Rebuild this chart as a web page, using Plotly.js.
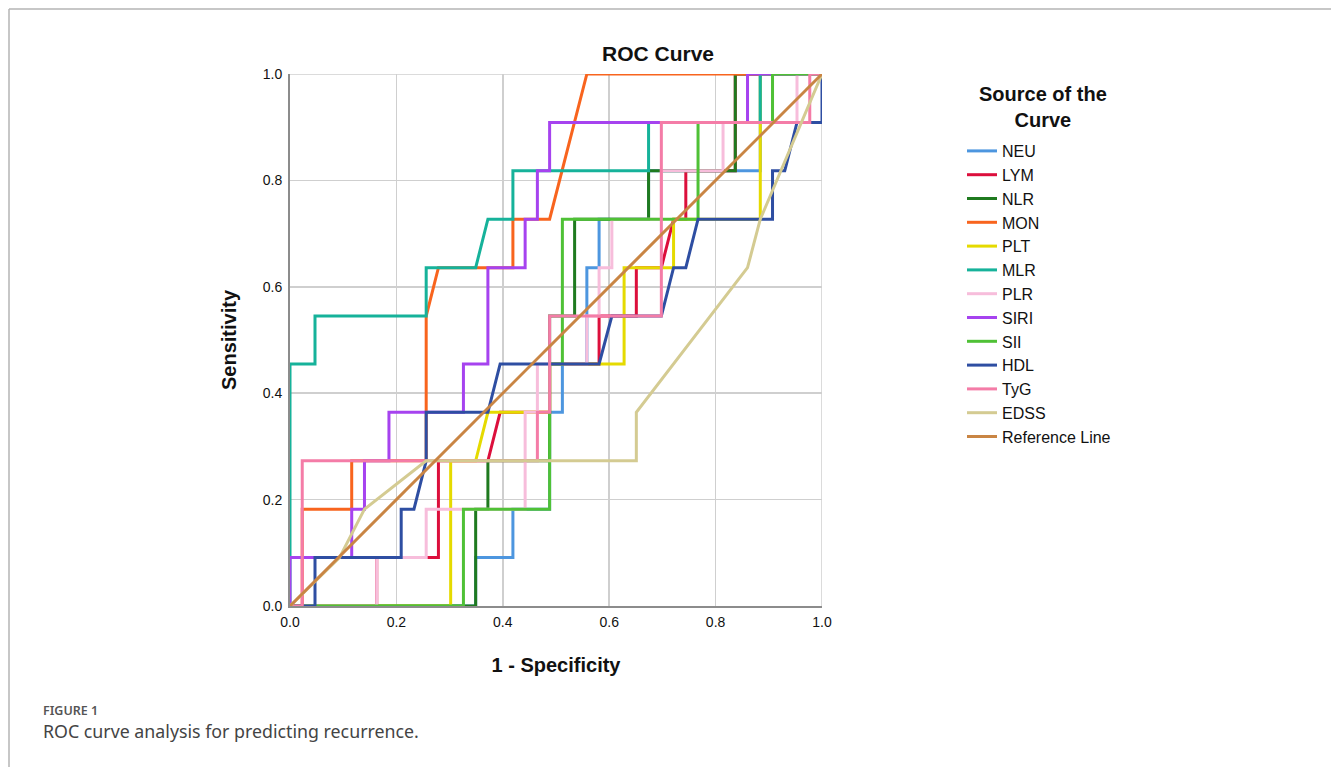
<!DOCTYPE html>
<html>
<head>
<meta charset="utf-8">
<script src="https://cdn.plot.ly/plotly-3.0.1.min.js"></script>
<style>
html,body{margin:0;padding:0;background:#fff;}
#chart{width:1331px;height:767px;}
</style>
</head>
<body>
<div id="chart"></div>
<script>
// ROC curve points (1 - Specificity, Sensitivity)
const seriesNames = ["NEU","LYM","NLR","MON","PLT","MLR","PLR","SIRI","SII","HDL","TyG","EDSS","Reference Line"];

const NEU_x = [0,.349,.349,.419,.419,.488,.488,.512,.512,.558,.558,.581,.581,.674,.674,.884,.884,1];
const NEU_y = [0,0,.091,.091,.182,.182,.364,.364,.455,.455,.636,.636,.727,.727,.818,.818,1,1];

const LYM_x = [0,.163,.163,.279,.279,.372,.395,.488,.488,.581,.581,.651,.651,.698,.721,.744,.744,.837,.837,1];
const LYM_y = [0,0,.091,.091,.273,.273,.364,.364,.455,.455,.545,.545,.636,.636,.727,.727,.818,.818,1,1];

const NLR_x = [0,.349,.349,.372,.372,.488,.488,.535,.535,.674,.674,.837,.837,1];
const NLR_y = [0,0,.182,.182,.273,.273,.545,.545,.727,.727,.818,.818,1,1];

const MON_x = [0,.023,.023,.116,.116,.256,.256,.279,.419,.419,.488,.558,1];
const MON_y = [0,0,.182,.182,.273,.273,.545,.636,.636,.727,.727,1,1];

const PLT_x = [0,.302,.302,.349,.372,.488,.488,.628,.628,.721,.721,.884,.884,1];
const PLT_y = [0,0,.273,.273,.364,.364,.455,.455,.636,.636,.727,.727,1,1];

const MLR_x = [0,0,.047,.047,.256,.256,.349,.372,.419,.419,.674,.674,.884,.884,1];
const MLR_y = [0,.455,.455,.545,.545,.636,.636,.727,.727,.818,.818,.909,.909,1,1];

const PLR_x = [0,.163,.163,.256,.256,.442,.442,.465,.465,.558,.558,.581,.581,.605,.605,.698,.698,.814,.814,.953,.953,1];
const PLR_y = [0,0,.091,.091,.182,.182,.364,.364,.455,.455,.545,.545,.636,.636,.727,.727,.818,.818,.909,.909,1,1];

const SIRI_x = [0,0,.116,.116,.140,.140,.186,.186,.326,.326,.372,.372,.442,.442,.465,.465,.488,.488,.860,.860,1];
const SIRI_y = [0,.091,.091,.182,.182,.273,.273,.364,.364,.455,.455,.636,.636,.727,.727,.818,.818,.909,.909,1,1];

const SII_x = [0,.326,.326,.488,.488,.512,.512,.767,.767,.907,.907,1];
const SII_y = [0,0,.182,.182,.455,.455,.727,.727,.909,.909,1,1];

const HDL_x = [0,.047,.047,.209,.209,.233,.256,.256,.372,.395,.581,.605,.698,.721,.744,.767,.907,.907,.930,.953,1,1];
const HDL_y = [0,0,.091,.091,.182,.182,.273,.364,.364,.455,.455,.545,.545,.636,.636,.727,.727,.818,.818,.909,.909,1];

const TyG_x = [0,.023,.023,.465,.465,.488,.488,.698,.698,.977,.977,1];
const TyG_y = [0,0,.273,.273,.364,.364,.545,.545,.909,.909,1,1];

const EDSS_x = [0,.093,.140,.256,.651,.651,.860,.884,1];
const EDSS_y = [0,.091,.182,.273,.273,.364,.636,.727,1];

const REF_x = [0,1];
const REF_y = [0,1];

const xTickVals = [0,0.2,0.4,0.6,0.8,1.0];
const xTickText = ["0.0","0.2","0.4","0.6","0.8","1.0"];
const yTickVals = [0,0.2,0.4,0.6,0.8,1.0];
const yTickText = ["0.0","0.2","0.4","0.6","0.8","1.0"];

const colors = ["#4d96df","#dc0f3c","#1f7a1f","#f8641e","#e5da00","#16b29a","#f7bddb","#a643ef","#4fc136","#2e4ea2","#f47ca7","#d4cb92","#c98544"];

const xs = [NEU_x,LYM_x,NLR_x,MON_x,PLT_x,MLR_x,PLR_x,SIRI_x,SII_x,HDL_x,TyG_x,EDSS_x,REF_x];
const ys = [NEU_y,LYM_y,NLR_y,MON_y,PLT_y,MLR_y,PLR_y,SIRI_y,SII_y,HDL_y,TyG_y,EDSS_y,REF_y];

const FONT = "Liberation Sans, Arial, Helvetica, sans-serif";

const traces = seriesNames.map((n,i)=>({
  type:"scatter", mode:"lines", name:n, x:xs[i], y:ys[i],
  line:{color:colors[i], width:3},
  hoverinfo:"name+x+y"
}));

// paper coords helpers for frame & caption (plot area 290..822 x, 74..606 y)
const W=1331,H=767,L=290,R=822,T=74,B=606;
const px=v=>(v-L)/(R-L);
const py=v=>(B-v)/(B-T);

const layout = {
  width:W, height:H,
  margin:{l:L, r:W-R, t:T, b:H-B, pad:0},
  paper_bgcolor:"#ffffff", plot_bgcolor:"#ffffff",
  font:{family:FONT, color:"#000", size:14},
  title:{text:"<b>ROC Curve</b>", font:{size:21, family:FONT, color:"#111"},
         xref:"container", yref:"container", x:658/W, xanchor:"center", y:1-54/H, yanchor:"middle"},
  xaxis:{range:[0,1], tickvals:xTickVals, ticktext:xTickText, showgrid:true, gridcolor:"#cfcfcf", gridwidth:1.5,
         showline:true, linecolor:"#8c8c8c", linewidth:2, zeroline:false, ticks:"outside", ticklen:2, tickcolor:"#ffffff", fixedrange:true,
         tickfont:{size:14, family:FONT, color:"#111"},
         title:{text:"<b>1 - Specificity</b>", font:{size:20, family:FONT, color:"#111"}, standoff:29}},
  yaxis:{range:[0,1], tickvals:yTickVals, ticktext:yTickText, showgrid:true, gridcolor:"#cfcfcf", gridwidth:1.5,
         showline:true, linecolor:"#8c8c8c", linewidth:2, zeroline:false, ticks:"outside", ticklen:3, tickcolor:"#ffffff", fixedrange:true,
         tickfont:{size:14, family:FONT, color:"#111"},
         title:{text:"<b>Sensitivity</b>", font:{size:20, family:FONT, color:"#111"}, standoff:21}},
  showlegend:true,
  legend:{x:px(962), xanchor:"left", y:py(134), yanchor:"top",
          font:{size:16, family:FONT, color:"#111"}, bgcolor:"rgba(0,0,0,0)",
          itemwidth:30, tracegroupgap:0},
  shapes:[
    {type:"line", xref:"paper", yref:"paper", x0:px(9), x1:px(1331), y0:py(9), y1:py(9), line:{color:"#b5b5b5", width:1.5}},
    {type:"line", xref:"paper", yref:"paper", x0:px(9), x1:px(9), y0:py(9), y1:py(767), line:{color:"#b5b5b5", width:1.5}},
    {type:"line", xref:"x", yref:"y", x0:1, x1:1, y0:0, y1:1, line:{color:"#cfcfcf", width:1.5}, layer:"below"},
    {type:"line", xref:"x", yref:"y", x0:0, x1:1, y0:1, y1:1, line:{color:"#cfcfcf", width:1.5}, layer:"below"}
  ],
  annotations:[
    {xref:"paper", yref:"paper", x:px(1043), y:py(107), xanchor:"center", yanchor:"middle", showarrow:false, align:"center",
     text:"<b>Source of the<br>Curve</b>", font:{family:FONT, size:20, color:"#111"}},
    {xref:"paper", yref:"paper", x:px(41), y:py(710), xanchor:"left", yanchor:"middle", showarrow:false,
     text:"FIGURE 1", font:{family:"Noto Sans, Open Sans, sans-serif", size:12.5, weight:600, color:"#555"}},
    {xref:"paper", yref:"paper", x:px(41), y:py(731), xanchor:"left", yanchor:"middle", showarrow:false,
     text:"ROC curve analysis for predicting recurrence.", font:{family:"Noto Sans, Open Sans, sans-serif", size:17.8, color:"#444"}}
  ]
};

Plotly.newPlot("chart", traces, layout, {displayModeBar:false, staticPlot:true});
</script>
</body>
</html>
